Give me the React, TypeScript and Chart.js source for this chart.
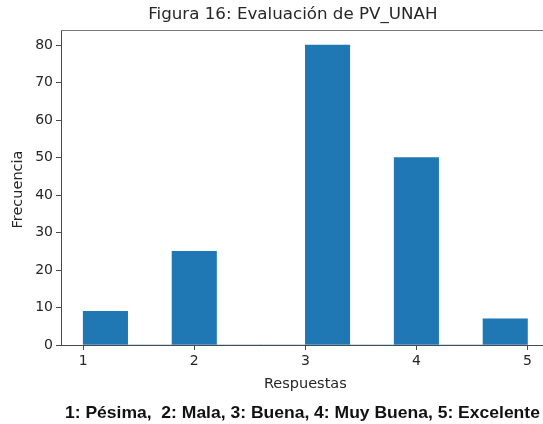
import React, { useEffect, useRef } from "react";
import { Chart, registerables } from "chart.js";

Chart.register(...registerables);

const binEdges = [1, 1.4, 1.8, 2.2, 2.6, 3.0, 3.4, 3.8, 4.2, 4.6, 5.0];
const counts = [9, 0, 25, 0, 0, 80, 0, 50, 0, 7];
const xTicks = [1, 2, 3, 4, 5];
const yTicks = [0, 10, 20, 30, 40, 50, 60, 70, 80];
const titleText = "Figura 16: Evaluación de PV_UNAH";
const xLabel = "Respuestas";
const yLabel = "Frecuencia";
const caption = "1: Pésima,  2: Mala, 3: Buena, 4: Muy Buena, 5: Excelente";

const X_MIN = 0.8;
const X_FULL_MAX = 5.2;
const X_VISIBLE_MAX = 5.14;
const Y_MAX = 84;

const TEXT_COLOR = "#262626";
const AXIS_COLOR = "#4a4a4a";

export default function App() {
  const canvasRef = useRef<HTMLCanvasElement | null>(null);

  useEffect(() => {
    const canvas = canvasRef.current;
    if (!canvas) return;

    const points = counts.map((c, i) => ({
      x: (binEdges[i] + binEdges[i + 1]) / 2,
      y: c,
    }));

    const textPlugin = {
      id: "textPlugin",
      afterDraw(chart: any) {
        const ctx = chart.ctx as CanvasRenderingContext2D;
        const area = chart.chartArea;
        const xs = chart.scales.x;
        const centerX = xs.getPixelForValue((X_MIN + X_FULL_MAX) / 2);
        ctx.save();
        // top spine
        ctx.strokeStyle = "#7a7a7a";
        ctx.lineWidth = 1;
        ctx.beginPath();
        ctx.moveTo(area.left, area.top + 0.5);
        ctx.lineTo(area.right, area.top + 0.5);
        ctx.stroke();

        ctx.fillStyle = TEXT_COLOR;
        ctx.textAlign = "center";
        ctx.textBaseline = "middle";
        ctx.font = "16.7px 'DejaVu Sans'";
        ctx.fillText(titleText, centerX - 12.5, 15);

        ctx.font = "14.5px 'DejaVu Sans'";
        ctx.fillText(xLabel, centerX, 384);

        ctx.save();
        ctx.translate(18, (area.top + area.bottom) / 2 + 2);
        ctx.rotate(-Math.PI / 2);
        ctx.fillText(yLabel, 0, 0);
        ctx.restore();

        ctx.save();
        ctx.fillStyle = "#111111";
        ctx.textAlign = "left";
        ctx.textBaseline = "alphabetic";
        ctx.font = "bold 17px 'Liberation Sans', Arial";
        ctx.translate(65, 418);
        ctx.scale(1.03, 1);
        ctx.fillText(caption, 0, 0);
        ctx.restore();
        ctx.restore();
      },
    };

    const chart = new Chart(canvas, {
      type: "bar",
      data: {
        datasets: [
          {
            data: points as any,
            backgroundColor: "#1f77b4",
            borderWidth: 0,
            categoryPercentage: 1,
            barPercentage: 1,
          },
        ],
      },
      options: {
        animation: false,
        responsive: true,
        maintainAspectRatio: false,
        layout: { padding: { top: 30, left: 0, right: 0, bottom: 0 } },
        plugins: {
          legend: { display: false },
          tooltip: { enabled: false },
          title: { display: false },
        },
        scales: {
          x: {
            type: "linear",
            min: X_MIN,
            max: X_VISIBLE_MAX,
            offset: false,
            afterBuildTicks: (scale: any) => {
              scale.ticks = xTicks.map((v) => ({ value: v }));
            },
            afterFit: (scale: any) => {
              scale.height = 79;
            },
            grid: {
              drawOnChartArea: false,
              drawTicks: true,
              tickLength: 5,
              color: AXIS_COLOR,
              offset: false,
            },
            border: { display: true, color: AXIS_COLOR, width: 1 },
            ticks: {
              font: { family: "'DejaVu Sans'", size: 14 },
              color: TEXT_COLOR,
              padding: 3,
              maxRotation: 0,
              autoSkip: false,
            },
          },
          y: {
            type: "linear",
            min: 0,
            max: Y_MAX,
            afterBuildTicks: (scale: any) => {
              scale.ticks = yTicks.map((v) => ({ value: v }));
            },
            afterFit: (scale: any) => {
              scale.width = 61;
            },
            grid: {
              drawOnChartArea: false,
              drawTicks: true,
              tickLength: 5,
              color: AXIS_COLOR,
            },
            border: { display: true, color: AXIS_COLOR, width: 1 },
            ticks: {
              font: { family: "'DejaVu Sans'", size: 14 },
              color: TEXT_COLOR,
              padding: 3,
              autoSkip: false,
            },
          },
        },
      },
      plugins: [textPlugin],
    });

    return () => {
      chart.destroy();
    };
  }, []);

  return (
    <div
      style={{
        position: "absolute",
        left: 0,
        top: 0,
        width: 543,
        height: 424,
        background: "#ffffff",
      }}
    >
      <canvas ref={canvasRef} />
    </div>
  );
}
